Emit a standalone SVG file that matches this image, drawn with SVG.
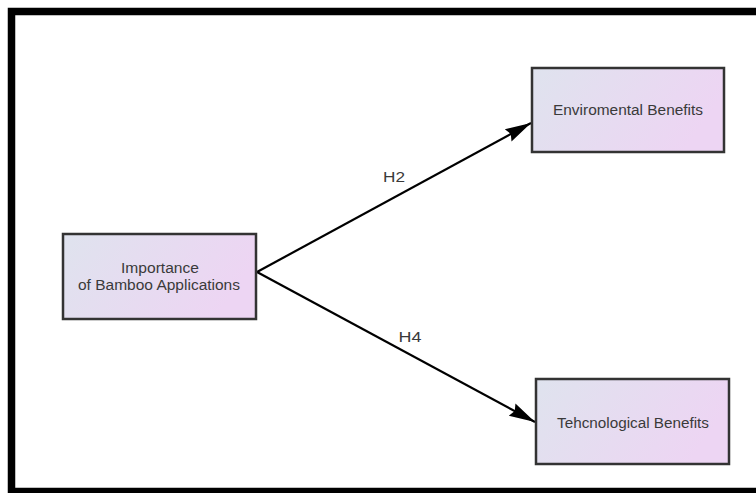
<svg xmlns="http://www.w3.org/2000/svg" width="756" height="493" viewBox="0 0 756 493">
<defs>
<linearGradient id="g" x1="0" y1="0" x2="1" y2="0.3">
<stop offset="0" stop-color="#dfe3ee"/>
<stop offset="1" stop-color="#edd5f3"/>
</linearGradient>
<marker id="arr" markerWidth="26" markerHeight="16" refX="26" refY="8" orient="auto" markerUnits="userSpaceOnUse">
<path d="M0,1 L26,8 L0,15 L3,8 Z" fill="#000"/>
</marker>
<style>
.box{fill:url(#g);stroke:#333;stroke-width:2.5}
.t{font-family:"Liberation Sans",Arial,sans-serif;font-size:14px;fill:#3a3a3a;text-anchor:middle}
.e{stroke:#000;stroke-width:2.2;fill:none}
</style>
</defs>
<rect x="0" y="0" width="756" height="493" fill="#fff"/>
<rect x="11.5" y="11.5" width="760" height="480" fill="none" stroke="#000" stroke-width="7.5"/>
<g id="edges">
<line class="e" x1="257" y1="272" x2="531" y2="123" marker-end="url(#arr)"/>
<line class="e" x1="257" y1="272" x2="535" y2="422" marker-end="url(#arr)"/>
<text class="t" x="394" y="182" textLength="22" lengthAdjust="spacingAndGlyphs">H2</text>
<text class="t" x="410" y="342" textLength="23" lengthAdjust="spacingAndGlyphs">H4</text>
</g>
<g id="importance">
<rect class="box" x="63" y="234" width="193" height="85"/>
<text class="t" x="160" y="273" textLength="78" lengthAdjust="spacingAndGlyphs">Importance</text>
<text class="t" x="159" y="290" textLength="162" lengthAdjust="spacingAndGlyphs">of Bamboo Applications</text>
</g>
<g id="environmental">
<rect class="box" x="532" y="68" width="192" height="84"/>
<text class="t" x="628" y="115" textLength="150" lengthAdjust="spacingAndGlyphs">Enviromental Benefits</text>
</g>
<g id="technological">
<rect class="box" x="536" y="379" width="193" height="85"/>
<text class="t" x="633" y="428" textLength="152" lengthAdjust="spacingAndGlyphs">Tehcnological Benefits</text>
</g>
</svg>
